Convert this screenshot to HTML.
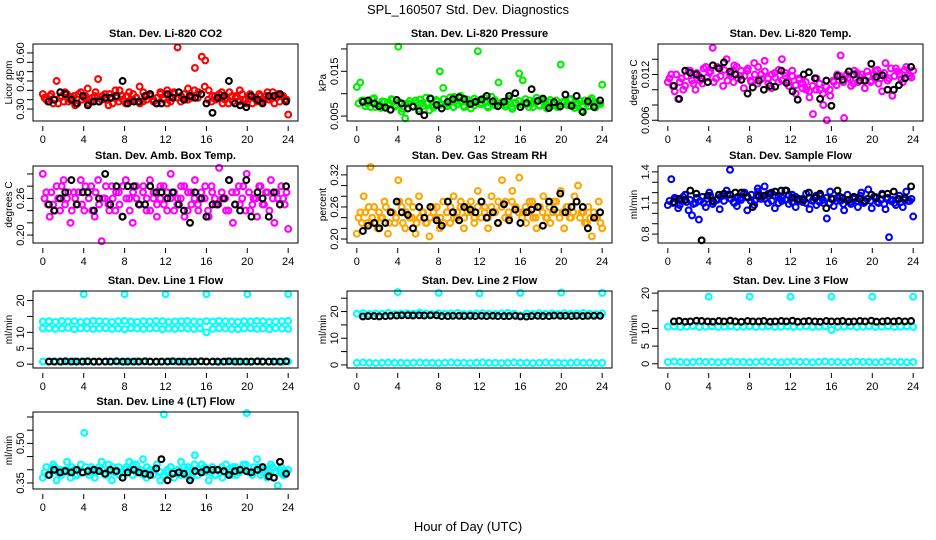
<!DOCTYPE html>
<html><head><meta charset="utf-8"><title>SPL_160507 Std. Dev. Diagnostics</title>
<style>
html,body{margin:0;padding:0;background:#fff;}
svg{display:block;font-family:"Liberation Sans",Arial,sans-serif;}
</style></head>
<body>
<svg id="chart" width="936" height="540" viewBox="0 0 936 540" xmlns="http://www.w3.org/2000/svg">
<rect x="0" y="0" width="936" height="540" fill="#fff"/>
<text x="468" y="14" text-anchor="middle" font-size="13">SPL_160507  Std. Dev. Diagnostics</text>
<text x="468" y="531" text-anchor="middle" font-size="13">Hour of Day (UTC)</text>
<g id="panels"></g>
</svg>
<script>
// shared black-series hours
const blackHours = [0.6,1.1,1.7,2.2,2.8,3.3,3.9,4.4,5.0,5.5,6.1,6.6,7.2,7.8,8.3,8.9,9.4,10.0,10.5,11.1,11.6,12.2,12.7,13.3,13.8,14.4,14.9,15.5,16.0,16.6,17.1,17.7,18.2,18.8,19.3,19.9,20.4,21.0,21.5,22.1,22.6,23.2,23.8];
const outlierHours = [4,8,12,16,20,24];

const co2 = [0.38,0.35,0.37,0.33,0.45,0.36,0.34,0.38,0.35,0.37,0.33,0.39,0.36,0.41,0.34,0.37,0.46,0.35,0.38,0.32,0.36,0.40,0.34,0.37,0.33,0.39,0.35,0.36,0.42,0.34,0.37,0.38,0.35,0.33,0.39,0.36,0.40,0.34,0.38,0.63,0.37,0.35,0.41,0.36,0.52,0.39,0.58,0.56,0.40,0.37,0.35,0.38,0.33,0.36,0.39,0.34,0.37,0.40,0.35,0.33,0.38,0.36,0.34,0.37,0.35,0.39,0.36,0.33,0.38,0.37,0.35,0.27];
const co2B = [0.36,0.34,0.38,0.35,0.33,0.37,0.39,0.34,0.36,0.32,0.38,0.35,0.37,0.33,0.36,0.39,0.34,0.37,0.35,0.38,0.33,0.36,0.40,0.35,0.37,0.34,0.38,0.36,0.33,0.39,0.35,0.37,0.34,0.36,0.38,0.35,0.33,0.37,0.39,0.36,0.34,0.38,0.35,0.37,0.40,0.36,0.38,0.42,0.35,0.34,0.37,0.36,0.39,0.35,0.33,0.37,0.36,0.34,0.38,0.35,0.37,0.33,0.36,0.38,0.34,0.37,0.35,0.39,0.36,0.34,0.37,0.35];
const co2Black = [0.34,0.35,0.39,0.38,0.35,0.33,0.37,0.32,0.34,0.34,0.36,0.36,0.37,0.45,0.33,0.34,0.34,0.37,0.38,0.33,0.33,0.38,0.36,0.39,0.35,0.37,0.36,0.38,0.33,0.28,0.36,0.37,0.45,0.33,0.32,0.31,0.37,0.35,0.33,0.37,0.37,0.38,0.34];

const pres = [0.0115,0.0125,0.0085,0.0078,0.0070,0.0090,0.0075,0.0068,0.0082,0.0074,0.0088,0.0071,0.0205,0.0060,0.0045,0.0078,0.0072,0.0085,0.0066,0.0079,0.0091,0.0063,0.0074,0.0086,0.0150,0.0113,0.0077,0.0092,0.0070,0.0084,0.0095,0.0073,0.0081,0.0067,0.0089,0.0195,0.0076,0.0084,0.0069,0.0093,0.0074,0.0125,0.0080,0.0071,0.0088,0.0066,0.0079,0.0145,0.0130,0.0076,0.0085,0.0070,0.0091,0.0073,0.0082,0.0067,0.0086,0.0075,0.0070,0.0165,0.0080,0.0074,0.0088,0.0068,0.0078,0.0062,0.0085,0.0072,0.0090,0.0069,0.0077,0.0120];
const presB = [0.0078,0.0085,0.0072,0.0080,0.0088,0.0070,0.0076,0.0083,0.0068,0.0079,0.0086,0.0074,0.0081,0.0066,0.0077,0.0084,0.0071,0.0080,0.0087,0.0073,0.0078,0.0090,0.0069,0.0082,0.0075,0.0088,0.0072,0.0080,0.0093,0.0076,0.0083,0.0070,0.0087,0.0078,0.0074,0.0085,0.0080,0.0091,0.0072,0.0079,0.0086,0.0073,0.0081,0.0076,0.0089,0.0071,0.0080,0.0084,0.0075,0.0088,0.0070,0.0079,0.0083,0.0074,0.0086,0.0072,0.0080,0.0077,0.0085,0.0070,0.0082,0.0076,0.0087,0.0073,0.0079,0.0084,0.0071,0.0078,0.0086,0.0074,0.0080,0.0077];
const presBlack = [0.0082,0.0085,0.0078,0.0072,0.0069,0.0064,0.0086,0.0078,0.0067,0.0071,0.0061,0.0052,0.0089,0.0075,0.0067,0.0082,0.0088,0.0092,0.0088,0.0077,0.0082,0.0087,0.0095,0.0083,0.0072,0.0082,0.0095,0.0101,0.0070,0.0079,0.0110,0.0084,0.0089,0.0068,0.0081,0.0072,0.0098,0.0073,0.0095,0.0059,0.0083,0.0070,0.0085];

const ltemp = [0.0110,0.0120,0.0098,0.0088,0.0115,0.0105,0.0125,0.0112,0.0100,0.0118,0.0108,0.0130,0.0122,0.0155,0.0115,0.0128,0.0105,0.0140,0.0120,0.0110,0.0130,0.0118,0.0102,0.0125,0.0112,0.0135,0.0108,0.0120,0.0138,0.0115,0.0102,0.0122,0.0110,0.0140,0.0118,0.0105,0.0125,0.0095,0.0113,0.0108,0.0100,0.0090,0.0068,0.0115,0.0100,0.0080,0.0060,0.0092,0.0110,0.0120,0.0145,0.0063,0.0115,0.0105,0.0125,0.0110,0.0120,0.0102,0.0118,0.0112,0.0125,0.0108,0.0098,0.0135,0.0115,0.0092,0.0128,0.0120,0.0110,0.0130,0.0118,0.0125];
const ltempB = [0.0115,0.0105,0.0120,0.0110,0.0100,0.0118,0.0125,0.0108,0.0122,0.0112,0.0128,0.0116,0.0124,0.0110,0.0130,0.0118,0.0126,0.0112,0.0122,0.0132,0.0115,0.0125,0.0118,0.0128,0.0110,0.0120,0.0130,0.0114,0.0124,0.0108,0.0120,0.0116,0.0126,0.0112,0.0122,0.0110,0.0118,0.0106,0.0115,0.0102,0.0110,0.0098,0.0105,0.0100,0.0108,0.0095,0.0104,0.0100,0.0112,0.0106,0.0118,0.0110,0.0120,0.0114,0.0108,0.0122,0.0116,0.0112,0.0124,0.0110,0.0120,0.0126,0.0115,0.0122,0.0112,0.0128,0.0118,0.0124,0.0114,0.0126,0.0120,0.0116];
const ltempBlack = [0.0105,0.0088,0.0125,0.0122,0.0120,0.0115,0.0110,0.0132,0.0128,0.0136,0.0124,0.0120,0.0113,0.0095,0.0103,0.0112,0.0100,0.0105,0.0104,0.0125,0.0109,0.0098,0.0087,0.0120,0.0123,0.0115,0.0088,0.0112,0.0079,0.0118,0.0113,0.0124,0.0120,0.0112,0.0112,0.0134,0.0117,0.0119,0.0100,0.0100,0.0106,0.0115,0.0130];

const amb = [0.30,0.27,0.23,0.25,0.28,0.24,0.29,0.26,0.22,0.27,0.25,0.29,0.24,0.27,0.28,0.23,0.29,0.19,0.26,0.25,0.28,0.24,0.27,0.23,0.29,0.26,0.22,0.28,0.25,0.27,0.24,0.29,0.26,0.23,0.28,0.25,0.27,0.30,0.24,0.26,0.28,0.23,0.27,0.25,0.29,0.24,0.26,0.28,0.23,0.27,0.25,0.31,0.26,0.24,0.29,0.22,0.27,0.25,0.28,0.30,0.24,0.26,0.23,0.28,0.25,0.27,0.29,0.22,0.26,0.28,0.25,0.21];
const ambB = [0.26,0.25,0.27,0.24,0.26,0.28,0.25,0.27,0.24,0.26,0.27,0.25,0.28,0.26,0.24,0.27,0.25,0.26,0.28,0.24,0.26,0.27,0.25,0.28,0.26,0.24,0.27,0.26,0.25,0.28,0.26,0.24,0.27,0.25,0.26,0.28,0.24,0.26,0.27,0.25,0.26,0.28,0.24,0.27,0.26,0.25,0.27,0.26,0.24,0.28,0.26,0.25,0.27,0.26,0.24,0.27,0.25,0.28,0.26,0.24,0.27,0.25,0.26,0.28,0.25,0.27,0.24,0.26,0.27,0.25,0.26,0.27];
const ambBlack = [0.25,0.24,0.26,0.27,0.29,0.25,0.27,0.27,0.24,0.26,0.30,0.25,0.28,0.23,0.28,0.28,0.25,0.25,0.28,0.27,0.27,0.26,0.27,0.25,0.24,0.22,0.27,0.26,0.23,0.25,0.25,0.26,0.29,0.25,0.24,0.29,0.23,0.27,0.26,0.23,0.27,0.25,0.28];

const rh = [0.21,0.25,0.28,0.23,0.335,0.26,0.22,0.24,0.27,0.21,0.25,0.23,0.31,0.26,0.22,0.27,0.24,0.21,0.28,0.25,0.23,0.205,0.26,0.24,0.22,0.27,0.25,0.23,0.28,0.24,0.26,0.22,0.25,0.27,0.23,0.29,0.24,0.26,0.22,0.28,0.25,0.23,0.31,0.27,0.24,0.29,0.26,0.315,0.25,0.23,0.27,0.24,0.22,0.26,0.28,0.24,0.23,0.27,0.25,0.29,0.22,0.26,0.24,0.28,0.30,0.25,0.23,0.26,0.205,0.24,0.27,0.22];
const rhB = [0.24,0.23,0.25,0.26,0.24,0.23,0.25,0.24,0.26,0.23,0.25,0.24,0.27,0.23,0.25,0.24,0.26,0.23,0.24,0.25,0.23,0.24,0.25,0.26,0.24,0.23,0.25,0.26,0.24,0.25,0.27,0.24,0.26,0.25,0.24,0.26,0.27,0.25,0.24,0.26,0.25,0.27,0.26,0.24,0.25,0.27,0.26,0.25,0.24,0.26,0.25,0.27,0.24,0.26,0.25,0.24,0.26,0.25,0.27,0.24,0.25,0.26,0.24,0.25,0.27,0.24,0.25,0.23,0.24,0.25,0.24,0.23];
const rhBlack = [0.215,0.225,0.23,0.22,0.23,0.25,0.27,0.25,0.245,0.22,0.26,0.24,0.26,0.235,0.225,0.27,0.25,0.235,0.26,0.255,0.25,0.27,0.24,0.25,0.23,0.265,0.235,0.255,0.23,0.25,0.255,0.26,0.225,0.27,0.255,0.285,0.25,0.26,0.27,0.26,0.22,0.24,0.25];

const sflow = [1.08,1.33,1.15,1.05,1.12,1.18,1.03,0.98,1.10,0.94,1.16,1.06,1.20,1.09,1.13,1.04,1.17,1.22,1.42,1.11,1.07,1.15,1.19,1.03,1.12,1.08,1.24,1.14,1.26,1.10,1.20,1.05,1.16,1.12,1.22,1.09,1.18,1.06,1.14,1.11,1.19,1.04,1.13,1.08,1.17,1.10,0.95,1.21,1.07,1.15,1.12,1.03,1.18,1.09,1.14,1.06,1.20,1.11,1.23,1.05,1.16,1.10,1.19,1.04,0.77,1.13,1.08,1.17,1.06,1.21,1.12,0.97];
const sflowB = [1.12,1.10,1.14,1.08,1.16,1.11,1.13,1.09,1.15,1.12,1.10,1.14,1.17,1.11,1.13,1.16,1.12,1.18,1.14,1.10,1.16,1.13,1.20,1.15,1.18,1.12,1.21,1.16,1.14,1.19,1.12,1.17,1.10,1.15,1.13,1.18,1.11,1.16,1.12,1.14,1.10,1.15,1.12,1.17,1.11,1.13,1.15,1.10,1.14,1.12,1.16,1.09,1.13,1.11,1.15,1.12,1.17,1.10,1.14,1.12,1.16,1.11,1.13,1.09,1.15,1.12,1.10,1.14,1.11,1.13,1.12,1.14];
const sflowBlack = [1.11,1.14,1.13,1.22,1.19,0.74,1.17,1.12,1.18,1.19,1.18,1.20,1.20,1.16,1.06,1.17,1.17,1.19,1.21,1.22,1.22,1.15,1.14,1.13,1.20,1.15,1.19,1.05,1.14,1.22,1.15,1.13,1.16,1.14,1.12,1.18,1.15,1.18,1.19,1.21,1.14,1.15,1.26];

const l1High = [13.4,13.5,13.3,13.6,13.4,13.5,13.3,13.4,13.6,13.5,13.4,13.3,13.5,13.6,13.4,13.3,13.5,13.4,13.6,13.5,13.3,13.4,13.5,13.6,13.4,13.3,13.5,13.4,13.6,13.5,13.4,13.3,13.5,13.4,13.6,13.5,13.3,13.4,13.5,13.6];
const l1Mid = [11.2,11.3,11.1,11.2,11.4,11.0,11.2,11.3,11.1,11.2,11.3,11.1,11.2,11.0,11.3,11.2,11.1,11.2,11.3,11.0,11.2,11.1,11.3,11.2,11.1,11.2,10.0,11.1,11.3,11.2,11.1,11.0,11.2,11.3,11.1,11.2,11.0,11.3,11.2,11.1];
const l1Low = [0.8,0.9,0.8,0.7,0.8,0.9,0.8,0.8,0.7,0.8,0.9,0.8,0.8,0.7,0.8,0.9,0.8,0.8,0.7,0.8,0.9,0.8,0.8,0.7,0.8,0.9,0.8,0.8,0.7,0.8,0.9,0.8,0.8,0.7,0.8,0.9,0.8,0.8,0.7,0.8];
const l1Black = [0.8,0.8,0.8,0.9,0.8,0.8,0.8,0.9,0.8,0.8,0.8,0.8,0.9,0.8,0.8,0.8,0.8,0.9,0.8,0.8,0.8,0.8,0.9,0.8,0.8,0.8,0.8,0.9,0.8,0.8,0.8,0.8,0.9,0.8,0.8,0.8,0.8,0.9,0.8,0.8,0.8,0.8,0.9];
const l1Out = [22,22,22,22,22,22];

const l2High = [19.2,19.4,19.1,19.3,19.2,19.5,19.1,19.3,19.4,19.2,19.6,19.3,19.1,19.4,19.2,19.3,19.5,19.1,19.2,19.3,19.4,19.2,19.1,19.3,19.5,19.2,18.6,19.3,19.1,19.4,19.2,19.3,19.1,19.4,19.2,19.3,19.5,19.2,19.1,19.3];
const l2Low = [0.8,0.9,0.8,0.7,0.8,0.9,0.8,0.8,0.7,0.8,0.9,0.8,0.8,0.7,0.8,0.9,0.8,0.8,0.7,0.8,0.9,0.8,0.8,0.7,0.8,0.9,0.8,0.8,0.7,0.8,0.9,0.8,0.8,0.7,0.8,0.9,0.8,0.8,0.7,0.8];
const l2Black = [18.2,18.3,18.3,18.2,18.3,18.4,18.5,18.6,18.6,18.5,18.6,18.5,18.6,18.6,18.3,18.3,18.4,18.4,18.3,18.4,18.3,18.4,18.3,18.4,18.3,18.3,18.3,18.4,18.2,18.1,18.3,18.4,18.3,18.3,18.5,18.4,18.4,18.3,18.4,18.3,18.4,18.4,18.4];
const l2Out = [27.3,27.0,26.8,27.0,27.1,27.0];

const l3High = [12.0,12.1,11.9,12.0,12.2,12.1,12.0,11.9,12.1,12.0,12.2,12.0,11.9,12.1,12.0,12.0,12.1,11.9,12.0,12.1,12.0,12.2,11.9,12.0,12.1,12.0,11.9,12.1,12.0,12.0,12.1,11.9,12.0,12.1,12.0,12.2,11.9,12.0,12.1,12.0,12.1,12.0,12.1];
const l3Mid = [10.5,10.6,10.4,10.5,10.7,10.4,10.5,10.6,10.4,10.5,10.6,10.4,10.5,10.6,10.4,10.5,10.6,10.4,10.5,10.6,10.4,10.5,10.6,10.4,10.5,10.6,9.6,10.4,10.5,10.6,10.4,10.5,10.6,10.4,10.5,10.6,10.4,10.5,10.6,10.4];
const l3Low = [0.5,0.6,0.5,0.4,0.5,0.6,0.5,0.5,0.4,0.5,0.6,0.5,0.5,0.4,0.5,0.6,0.5,0.5,0.4,0.5,0.6,0.5,0.5,0.4,0.5,0.6,0.5,0.5,0.4,0.5,0.6,0.5,0.5,0.4,0.5,0.6,0.5,0.5,0.4,0.5];
const l3Out = [19,19,19,19,19,19];

const l4 = [0.37,0.41,0.38,0.42,0.36,0.40,0.39,0.43,0.37,0.40,0.38,0.42,0.54,0.39,0.41,0.37,0.40,0.43,0.38,0.42,0.36,0.39,0.41,0.37,0.40,0.43,0.38,0.42,0.39,0.44,0.37,0.40,0.38,0.42,0.36,0.61,0.39,0.41,0.37,0.40,0.43,0.38,0.41,0.37,0.455,0.40,0.42,0.39,0.36,0.41,0.38,0.40,0.37,0.42,0.39,0.41,0.38,0.40,0.42,0.615,0.39,0.41,0.44,0.38,0.40,0.37,0.42,0.39,0.34,0.41,0.38,0.40];
const l4B = [0.39,0.38,0.40,0.41,0.39,0.38,0.40,0.39,0.41,0.38,0.40,0.39,0.41,0.38,0.40,0.39,0.41,0.40,0.38,0.39,0.41,0.40,0.38,0.39,0.41,0.40,0.42,0.39,0.40,0.38,0.41,0.39,0.40,0.42,0.39,0.38,0.40,0.41,0.39,0.40,0.38,0.41,0.39,0.40,0.42,0.38,0.39,0.41,0.40,0.39,0.38,0.40,0.41,0.39,0.40,0.38,0.41,0.39,0.40,0.42,0.39,0.38,0.40,0.41,0.39,0.40,0.38,0.41,0.39,0.40,0.38,0.39];
const l4Black = [0.38,0.40,0.39,0.395,0.39,0.40,0.39,0.395,0.40,0.395,0.385,0.40,0.395,0.37,0.39,0.40,0.39,0.385,0.38,0.405,0.44,0.36,0.385,0.39,0.385,0.36,0.395,0.39,0.40,0.40,0.40,0.395,0.38,0.395,0.40,0.395,0.39,0.40,0.41,0.375,0.37,0.43,0.385];

const xTicks = [0,4,8,12,16,20,24];

const NS = 'http://www.w3.org/2000/svg';
const root = document.getElementById('panels');
function mk(tag, attrs, parent){
  const e = document.createElementNS(NS, tag);
  for (const k in attrs) e.setAttribute(k, attrs[k]);
  parent.appendChild(e);
  return e;
}
const colX = [33,347,658], rowY = [44,166,291,412], W = 265, H = 77;
function evenHours(arr){ return arr.map((v,i)=>i*24/(arr.length-1)); }
function midHours(arr){ return arr.map((v,i)=>(i+0.5)*24/arr.length); }

const panels = [
 {name:'co2',title:'Stan. Dev. Li-820 CO2',ylab:'Licor ppm',c:0,r:0,ylim:[0.236,0.648],ticks:[0.30,0.35,0.40,0.45,0.50,0.55,0.60],labels:['0.30','','','0.45','','','0.60'],
  series:[{x:evenHours(co2),y:co2,col:'#ff0000'},{x:midHours(co2B),y:co2B,col:'#ff0000'},{x:blackHours,y:co2Black,col:'#000'}]},
 {name:'pressure',title:'Stan. Dev. Li-820 Pressure',ylab:'kPa',c:1,r:0,ylim:[0.0039,0.0211],ticks:[0.005,0.010,0.015,0.020],labels:['0.005','','0.015',''],
  series:[{x:evenHours(pres),y:pres,col:'#00ee00'},{x:midHours(presB),y:presB,col:'#00ee00'},{x:blackHours,y:presBlack,col:'#000'}]},
 {name:'li820-temp',title:'Stan. Dev. Li-820 Temp.',ylab:'degrees C',c:2,r:0,ylim:[0.0059,0.016],ticks:[0.006,0.008,0.010,0.012,0.014],labels:['0.006','','','0.012',''],
  series:[{x:evenHours(ltemp),y:ltemp,col:'#ff00ff'},{x:midHours(ltempB),y:ltempB,col:'#ff00ff'},{x:blackHours,y:ltempBlack,col:'#000'}]},
 {name:'amb-box-temp',title:'Stan. Dev. Amb. Box Temp.',ylab:'degrees C',c:0,r:1,ylim:[0.187,0.313],ticks:[0.20,0.22,0.24,0.26,0.28,0.30],labels:['0.20','','','0.26','',''],
  series:[{x:evenHours(amb),y:amb,col:'#ff00ff'},{x:midHours(ambB),y:ambB,col:'#ff00ff'},{x:blackHours,y:ambBlack,col:'#000'}]},
 {name:'gas-stream-rh',title:'Stan. Dev. Gas Stream RH',ylab:'percent',c:1,r:1,ylim:[0.1926,0.3366],ticks:[0.20,0.22,0.24,0.26,0.28,0.30,0.32],labels:['0.20','','','0.26','','','0.32'],
  series:[{x:evenHours(rh),y:rh,col:'#ffa500'},{x:midHours(rhB),y:rhB,col:'#ffa500'},{x:blackHours,y:rhBlack,col:'#000'}]},
 {name:'sample-flow',title:'Stan. Dev. Sample Flow',ylab:'ml/min',c:2,r:1,ylim:[0.714,1.457],ticks:[0.8,0.9,1.0,1.1,1.2,1.3,1.4],labels:['0.8','','','1.1','','','1.4'],
  series:[{x:evenHours(sflow),y:sflow,col:'#0000ff'},{x:midHours(sflowB),y:sflowB,col:'#0000ff'},{x:blackHours,y:sflowBlack,col:'#000'}]},
 {name:'line1-flow',title:'Stan. Dev. Line 1 Flow',ylab:'ml/min',c:0,r:2,ylim:[-1.2,23],ticks:[0,5,10,15,20],labels:['0','5','10','','20'],
  series:[{x:evenHours(l1High),y:l1High,col:'#00ffff'},{x:evenHours(l1Mid),y:l1Mid,col:'#00ffff'},{x:evenHours(l1Low),y:l1Low,col:'#00ffff'},{x:outlierHours,y:l1Out,col:'#00ffff'},{x:blackHours,y:l1Black,col:'#000'}]},
 {name:'line2-flow',title:'Stan. Dev. Line 2 Flow',ylab:'ml/min',c:1,r:2,ylim:[-1.15,27.7],ticks:[0,5,10,15,20,25],labels:['0','','10','','20',''],
  series:[{x:evenHours(l2High),y:l2High,col:'#00ffff'},{x:evenHours(l2Low),y:l2Low,col:'#00ffff'},{x:outlierHours,y:l2Out,col:'#00ffff'},{x:blackHours,y:l2Black,col:'#000'}]},
 {name:'line3-flow',title:'Stan. Dev. Line 3 Flow',ylab:'ml/min',c:2,r:2,ylim:[-1.2,20.6],ticks:[0,5,10,15,20],labels:['0','5','10','','20'],
  series:[{x:evenHours(l3Mid),y:l3Mid,col:'#00ffff'},{x:evenHours(l3Low),y:l3Low,col:'#00ffff'},{x:outlierHours,y:l3Out,col:'#00ffff'},{x:blackHours,y:l3High,col:'#000'}]},
 {name:'line4-flow',title:'Stan. Dev. Line 4 (LT) Flow',ylab:'ml/min',c:0,r:3,ylim:[0.327,0.619],ticks:[0.35,0.40,0.45,0.50,0.55,0.60],labels:['0.35','','','0.50','',''],
  series:[{x:evenHours(l4),y:l4,col:'#00ffff'},{x:midHours(l4B),y:l4B,col:'#00ffff'},{x:blackHours,y:l4Black,col:'#000'}]}
];

panels.forEach(p=>{
  const bx = colX[p.c], by = rowY[p.r];
  const g = mk('g',{},root);
  
  
  const xs = h => bx + (h + 0.96) / 25.92 * W;
  const ys = v => by + H - (v - p.ylim[0]) / (p.ylim[1] - p.ylim[0]) * H;
  const t = mk('text',{x:bx+W/2,y:by-7,'text-anchor':'middle','font-size':11,'font-weight':'bold'},g);
  t.textContent = p.title;
  
  
  const yl = mk('text',{x:0,y:0,'text-anchor':'middle','font-size':10,transform:`translate(${bx-21},${by+H/2}) rotate(-90)`},g);
  yl.textContent = p.ylab;
  
  
  const pts = mk('g',{fill:'none','stroke-width':2.1},g);
  
  
  p.series.forEach(s=>{
    s.y.forEach((v,i)=>{
      const c = mk('circle',{cx:xs(s.x[i]).toFixed(1),cy:ys(v).toFixed(1),r:2.9,stroke:s.col},pts);
      
      
    });
  });
  const b = mk('rect',{x:bx,y:by,width:W,height:H,fill:'none',stroke:'#000','stroke-width':1},g);
  
  
  p.ticks.forEach((tv,i)=>{
    const yy = ys(tv);
    const tk = mk('line',{x1:bx-6,x2:bx,y1:yy,y2:yy,stroke:'#000'},g);
    
    
    if (p.labels[i]) {
      const lt = mk('text',{x:0,y:0,'text-anchor':'middle','font-size':11,transform:`translate(${bx-9},${yy}) rotate(-90)`},g);
      lt.textContent = p.labels[i];
      
      
    }
  });
  xTicks.forEach(h=>{
    const xx = xs(h);
    const tk = mk('line',{x1:xx,x2:xx,y1:by+H+5,y2:by+H+10,stroke:'#000'},g);
    
    
    const lt = mk('text',{x:xx,y:by+H+22,'text-anchor':'middle','font-size':11},g);
    lt.textContent = String(h);
    
    
  });
});
</script>
</body></html>
